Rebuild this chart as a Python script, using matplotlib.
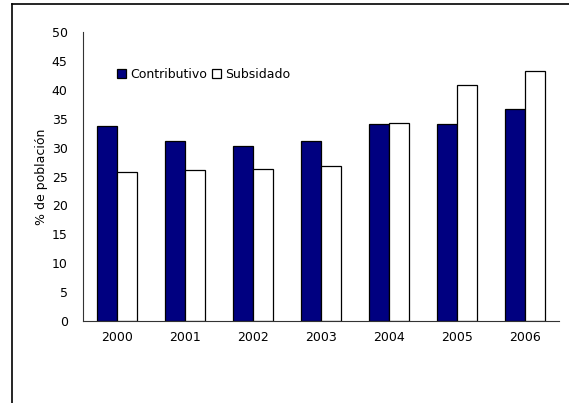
import numpy as np
import matplotlib
matplotlib.use("Agg")
import matplotlib.pyplot as plt
from matplotlib.lines import Line2D

years = ["2000", "2001", "2002", "2003", "2004", "2005", "2006"]
contributivo = [33.7, 31.2, 30.3, 31.1, 34.0, 34.0, 36.6]
subsidado = [25.8, 26.1, 26.3, 26.8, 34.3, 40.8, 43.3]

W, H = 569, 403
fig = plt.figure(figsize=(W / 100, H / 100), dpi=100)
ax = fig.add_axes([83 / W, 1 - 321 / H, 476 / W, 289 / H])

x = np.arange(len(years))
bw = 0.287
ax.bar(x - bw / 2, contributivo, bw, color="#000080", edgecolor="black",
       linewidth=0.9, label="Contributivo")
ax.bar(x + bw / 2, subsidado, bw, color="white", edgecolor="black",
       linewidth=0.9, label="Subsidado")

ax.set_xlim(-0.5, len(years) - 0.5)
ax.set_ylim(0, 50)
ax.set_yticks(range(0, 51, 5))
ax.set_xticks(x)
ax.set_xticklabels(years)
ax.tick_params(length=0, labelsize=9, pad=7)
ax.tick_params(axis="y", pad=11)
for s in ["top", "right"]:
    ax.spines[s].set_visible(False)
for s in ["left", "bottom"]:
    ax.spines[s].set_color("#333333")
    ax.spines[s].set_linewidth(0.8)

ax.set_ylabel("% de población", fontsize=9, labelpad=3)

ax.legend(loc="center left", bbox_to_anchor=(0.058, 0.852), ncol=2,
          frameon=False, fontsize=9, handlelength=0.75, handleheight=0.75,
          handletextpad=0.3, columnspacing=0.4, borderpad=0)

# outer frame (left and top only, as in the cropped original)
fig.add_artist(Line2D([12 / W, 12 / W], [0, 1 - 4 / H], color="black",
                      linewidth=1.2, transform=fig.transFigure))
fig.add_artist(Line2D([12 / W, 1], [1 - 4 / H, 1 - 4 / H], color="black",
                      linewidth=1.2, transform=fig.transFigure))

fig.savefig("out.png", dpi=100)
